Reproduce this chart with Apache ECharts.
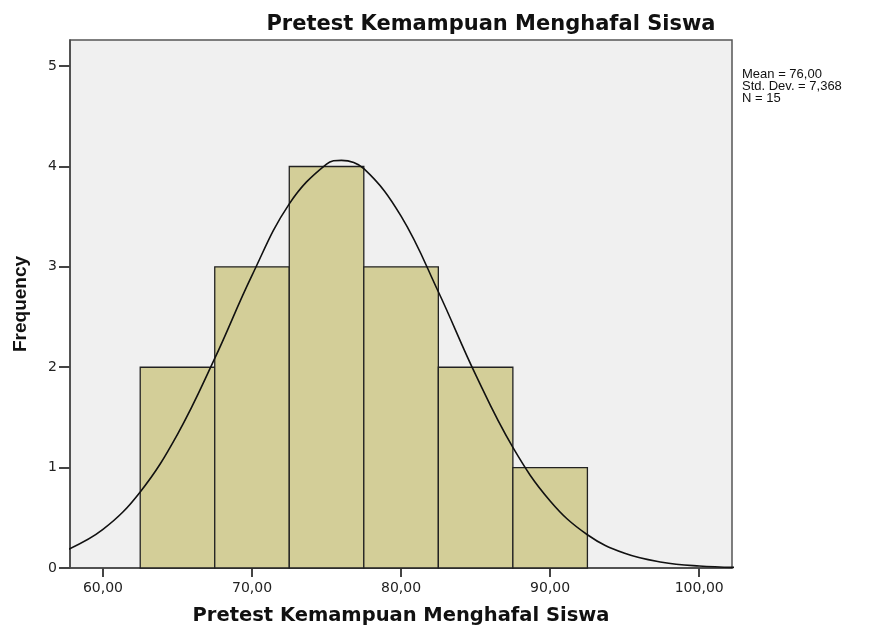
<!DOCTYPE html>
<html><head><meta charset="utf-8">
<script src="https://cdn.jsdelivr.net/npm/echarts@6/dist/echarts.min.js"></script>
<style>html,body{margin:0;padding:0;background:#fff}#c{width:876px;height:628px}</style>
</head><body><div id="c"></div>
<script>
// Histogram bins (start values, width 5) and frequencies
const binStarts = [62.5, 67.5, 72.5, 77.5, 82.5, 87.5];
const binWidth = 5;
const frequencies = [2, 3, 4, 3, 2, 1];
// Normal curve (x, frequency)
const curveX = [57.5, 60, 62.5, 65, 67.5, 70, 72.5, 75, 76, 77.5, 80, 82.5, 85, 87.5, 90, 92.5, 95, 97.5, 100, 102.5];
const curveY = [0.174, 0.384, 0.758, 1.332, 2.088, 2.915, 3.628, 4.024, 4.061, 3.978, 3.505, 2.752, 1.926, 1.201, 0.668, 0.331, 0.146, 0.058, 0.020, 0.006];
const xTicks = [60, 70, 80, 90, 100];
const yTicks = [0, 1, 2, 3, 4, 5];
const statsLines = ['Mean = 76,00', 'Std. Dev. = 7,368', 'N = 15'];
const titleText = 'Pretest Kemampuan Menghafal Siswa';
const xName = 'Pretest Kemampuan Menghafal Siswa';
const yName = 'Frequency';

const chart = echarts.init(document.getElementById('c'), null, {renderer: 'canvas'});
const barData = binStarts.map((s, i) => [s, s + binWidth, frequencies[i]]);
const curveData = curveX.map((x, i) => [x, curveY[i]]);
const font = 'Liberation Sans, Arial, sans-serif';
const wide = 'DejaVu Sans, sans-serif';

chart.setOption({
  animation: false,
  backgroundColor: '#ffffff',
  title: {
    text: titleText, left: 486, top: 9, textAlign: 'center',
    textStyle: {fontFamily: wide, fontWeight: 'bold', fontSize: 21, color: '#111'}
  },
  graphic: [{
    type: 'text', left: 742, top: 68,
    style: {text: statsLines.join('\n'), font: '13px ' + font, fill: '#111', lineHeight: 12}
  }],
  grid: {left: 70, top: 40, right: 144, bottom: 60, outerBoundsMode: 'none', containLabel: false,
    show: true, backgroundColor: '#f0f0f0', borderColor: '#555', borderWidth: 1.5},
  xAxis: {
    type: 'value', min: 57.79, max: 102.2,
    name: xName, nameLocation: 'middle', nameGap: 38,
    nameTextStyle: {fontFamily: wide, fontWeight: 'bold', fontSize: 19.5, color: '#111'},
    axisLine: {show: true, lineStyle: {color: '#444', width: 1.5}},
    axisTick: {show: true, length: 9, lineStyle: {color: '#444', width: 2}, customValues: xTicks},
    axisLabel: {customValues: xTicks, color: '#222', fontFamily: wide, fontSize: 14, margin: 13,
      formatter: v => v.toFixed(2).replace('.', ',')},
    splitLine: {show: false}
  },
  yAxis: {
    type: 'value', min: 0, max: 5.26,
    name: yName, nameLocation: 'middle', nameGap: 40, nameRotate: 90,
    nameTextStyle: {fontFamily: font, fontWeight: 'bold', fontSize: 19, color: '#111'},
    axisLine: {show: true, lineStyle: {color: '#444', width: 1.5}},
    axisTick: {show: true, length: 11, lineStyle: {color: '#444', width: 2}, customValues: yTicks},
    axisLabel: {customValues: yTicks, color: '#222', fontFamily: wide, fontSize: 14, margin: 13},
    splitLine: {show: false}
  },
  series: [{
    type: 'custom',
    data: barData,
    renderItem: function (params, api) {
      const p0 = api.coord([api.value(0), api.value(2)]);
      const p1 = api.coord([api.value(1), 0]);
      return {
        type: 'rect',
        shape: {x: p0[0], y: p0[1], width: p1[0] - p0[0], height: p1[1] - p0[1]},
        style: {fill: '#d3ce98', stroke: '#222', lineWidth: 1.3}
      };
    },
    encode: {x: [0, 1], y: 2}
  }, {
    type: 'line', data: curveData, smooth: 0.4, symbol: 'none', clip: true,
    lineStyle: {color: '#111', width: 1.6}
  }]
});
</script></body></html>
